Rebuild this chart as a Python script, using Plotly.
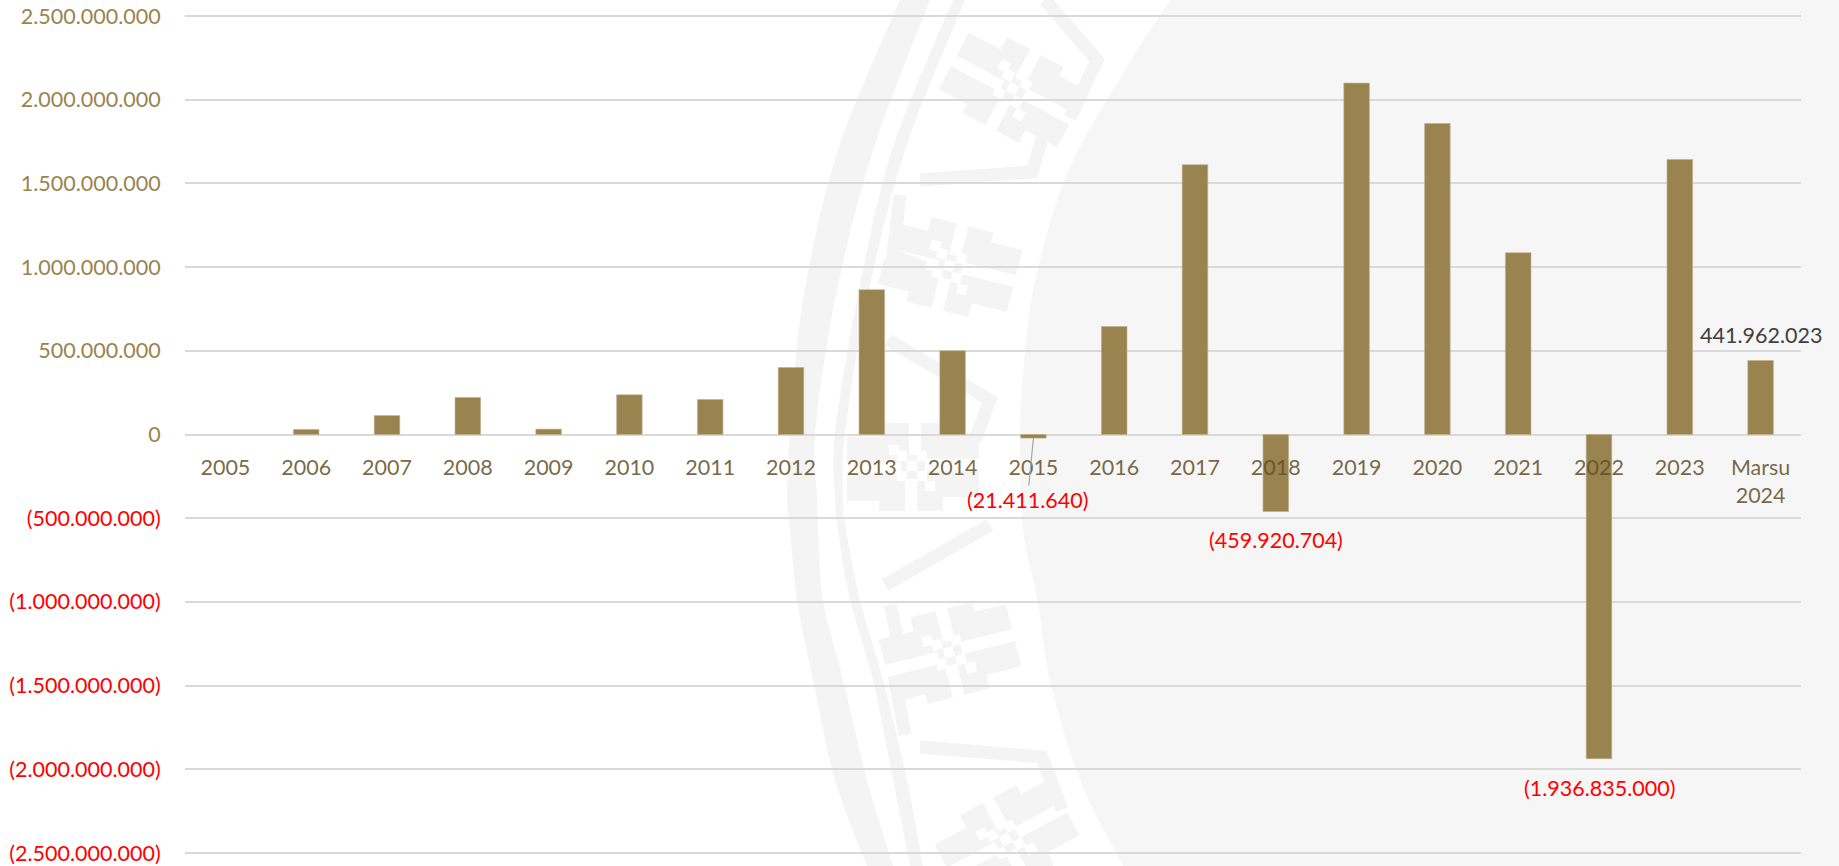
import math
import plotly.graph_objects as go

# ---- data ----
categories = ["2005", "2006", "2007", "2008", "2009", "2010", "2011", "2012", "2013", "2014",
              "2015", "2016", "2017", "2018", "2019", "2020", "2021", "2022", "2023", "Marsu<br>2024"]
values = [0, 30000000, 113000000, 221000000, 32000000, 237000000, 209000000, 400000000,
          865000000, 500000000, -21411640, 645000000, 1612000000, -459920704, 2099000000,
          1858000000, 1086000000, -1936835000, 1643000000, 441962023]
tick_values = [2500000000, 2000000000, 1500000000, 1000000000, 500000000, 0,
               -500000000, -1000000000, -1500000000, -2000000000, -2500000000]
tick_labels = ["2.500.000.000", "2.000.000.000", "1.500.000.000", "1.000.000.000", "500.000.000", "0",
               "(500.000.000)", "(1.000.000.000)", "(1.500.000.000)", "(2.000.000.000)", "(2.500.000.000)"]
label_text = {"2015": "(21.411.640)", "2018": "(459.920.704)", "2022": "(1.936.835.000)",
              "Marsu<br>2024": "441.962.023"}

# ---- page geometry ----
W, H = 1839, 866
L, R, T, B = 185, 1801, 13, 856
RANGE_MAX = 2517900000
FONT = "Lato, 'Open Sans', sans-serif"
FS = 21.5
GOLD = "#99844f"
PALE = "#f4f4f4"


def px(x):
    return (x - L) / (R - L)


def py(y):
    return (B - y) / (B - T)


def smooth(points, n=8):
    pts = [points[0]] + list(points) + [points[-1]]
    out = []
    for i in range(1, len(pts) - 2):
        p0, p1, p2, p3 = pts[i - 1], pts[i], pts[i + 1], pts[i + 2]
        for k in range(n):
            t = k / n
            out.append(tuple(
                0.5 * (2 * p1[a] + (p2[a] - p0[a]) * t + (2 * p0[a] - 5 * p1[a] + 4 * p2[a] - p3[a]) * t * t
                       + (3 * p1[a] - p0[a] - 3 * p2[a] + p3[a]) * t ** 3)
                for a in (0, 1)))
    out.append(points[-1])
    return out


def path(points, close=False):
    d = "M " + " L ".join(f"{px(x):.5f},{py(y):.5f}" for x, y in points)
    return d + (" Z" if close else "")


def deco_fill(points, color=PALE):
    return dict(type="path", xref="paper", yref="paper", layer="below", path=path(points, True),
                fillcolor=color, line=dict(width=0))


def deco_line(points, width=13):
    return dict(type="path", xref="paper", yref="paper", layer="below", path=path(points),
                line=dict(color=PALE, width=width))


shapes = []

# grey right-hand field of the watermark
edge = smooth([(1170, 0), (1127, 67), (1070, 167), (1040, 260), (1027, 333), (1020, 433), (1023, 530),
               (1037, 597), (1050, 680), (1080, 780), (1123, 866)])
shapes.append(deco_fill(edge + [(W, H), (W, 0)], "#f6f6f6"))

# concentric bands
outer_a = [(900, 0), (838, 150), (803, 300), (790, 433), (787, 497), (790, 530), (797, 600), (813, 680), (835, 780), (867, 866)]
outer_b = [(930, 0), (873, 150), (835, 300), (815, 433), (817, 497), (818, 530), (823, 600), (843, 680), (867, 780), (893, 866)]
inner_a = [(953, 0), (892, 150), (857, 300), (835, 433), (835, 497), (838, 530), (850, 600), (873, 680), (893, 780), (910, 866)]
inner_b = [(965, 0), (905, 150), (867, 300), (845, 433), (843, 497), (846, 530), (860, 600), (883, 680), (907, 780), (923, 866)]
shapes.append(deco_fill(smooth(outer_a) + smooth(outer_b)[::-1]))
shapes.append(deco_fill(smooth(inner_a) + smooth(inner_b)[::-1]))

# bracket strokes between the motifs
for stroke in [
    [(1045, 0), (1097, 60), (1070, 118)],
    [(1043, 135), (1032, 172), (920, 180)],
    [(900, 195), (893, 255), (925, 268)],
    [(888, 340), (990, 400), (975, 440)],
    [(990, 525), (885, 585)],
    [(890, 605), (900, 650), (930, 640)],
    [(895, 680), (905, 735)],
    [(920, 747), (1042, 757), (1062, 810)],
]:
    shapes.append(deco_line(stroke))


def motif(cx, cy, deg):
    c, s = math.cos(math.radians(deg)), math.sin(math.radians(deg))

    def rot(x, y):
        return (cx + x * c - y * s, cy + x * s + y * c)

    def rect(x0, y0, x1, y1, color=PALE):
        return deco_fill([rot(x0, y0), rot(x1, y0), rot(x1, y1), rot(x0, y1)], color)

    out = []
    for x0, y0, x1, y1 in [
        (-30, -44, -4, -12), (8, -44, 34, -12),
        (-34, 12, -8, 44), (4, 12, 30, 44),
        (12, -34, 66, -8), (12, 4, 66, 30),
        (-66, -30, -12, -4), (-66, 8, -12, 34),
        (-12, -12, 12, 12),
    ]:
        out.append(rect(x0, y0, x1, y1))
    for x0, y0 in [(-6, -6), (4, 4), (-16, 4), (4, -16), (-16, -16), (12, 14), (-24, -22)]:
        out.append(rect(x0, y0, x0 + 10, y0 + 10, "#ffffff"))
    return out


for cx, cy, deg in [(1013, 90, 28), (950, 267, 14), (913, 467, 0), (950, 653, -14), (1007, 840, -28)]:
    shapes.extend(motif(cx, cy, deg))

# ---- figure ----
fig = go.Figure(go.Bar(
    x=categories, y=values,
    marker=dict(color=GOLD, line=dict(color="#bdb08c", width=[0 if v == 0 else 0.6 for v in values])),
    hoverinfo="skip",
))


def styled(label, value):
    return f'<span style="color:#ff0000">{label}</span>' if value < 0 else label


ann = []
for i, (cat, val) in enumerate(zip(categories, values)):
    if cat not in label_text:
        continue
    base = dict(x=i, y=val, text=label_text[cat],
                font=dict(family=FONT, size=FS, color="#ff0000" if val < 0 else "#404040"))
    if cat == "2015":
        ann.append(dict(base, showarrow=True, arrowhead=0, arrowwidth=1.2, arrowcolor="#a6a6a6",
                        ax=-6, ay=62, standoff=0))
    elif val < 0:
        ann.append(dict(base, showarrow=False, yanchor="middle", yshift=-29))
    else:
        ann.append(dict(base, showarrow=False, yanchor="middle", yshift=26))

fig.update_layout(
    width=W, height=H,
    margin=dict(l=L, r=W - R, t=T, b=H - B, pad=0),
    paper_bgcolor="#ffffff", plot_bgcolor="rgba(0,0,0,0)",
    showlegend=False, bargap=0.684,
    shapes=shapes, annotations=ann,
    font=dict(family=FONT),
    xaxis=dict(
        type="category", anchor="free", position=0.5, side="bottom",
        range=[-0.5, len(categories) - 0.5],
        tickmode="array", tickvals=list(range(len(categories))), ticktext=categories,
        showgrid=False, showline=False, zeroline=False,
        ticks="outside", ticklen=14, tickcolor="rgba(0,0,0,0)",
        tickfont=dict(family=FONT, size=FS, color="rgba(96,78,38,0.85)"),
        tickangle=0,
    ),
    yaxis=dict(
        range=[-RANGE_MAX, RANGE_MAX],
        tickmode="array", tickvals=tick_values,
        ticktext=[styled(t, v) for t, v in zip(tick_labels, tick_values)],
        tickfont=dict(family=FONT, size=FS, color=GOLD),
        showgrid=True, gridcolor="#d9d9d9", gridwidth=1.5,
        zeroline=True, zerolinecolor="#d9d9d9", zerolinewidth=1.5,
        showline=False, ticks="outside", ticklen=19, tickcolor="rgba(0,0,0,0)",
        automargin=False,
    ),
)

fig.write_html("out.html", config=dict(displayModeBar=False),
               post_script="document.body.style.margin='0';document.documentElement.style.overflow='hidden';")
